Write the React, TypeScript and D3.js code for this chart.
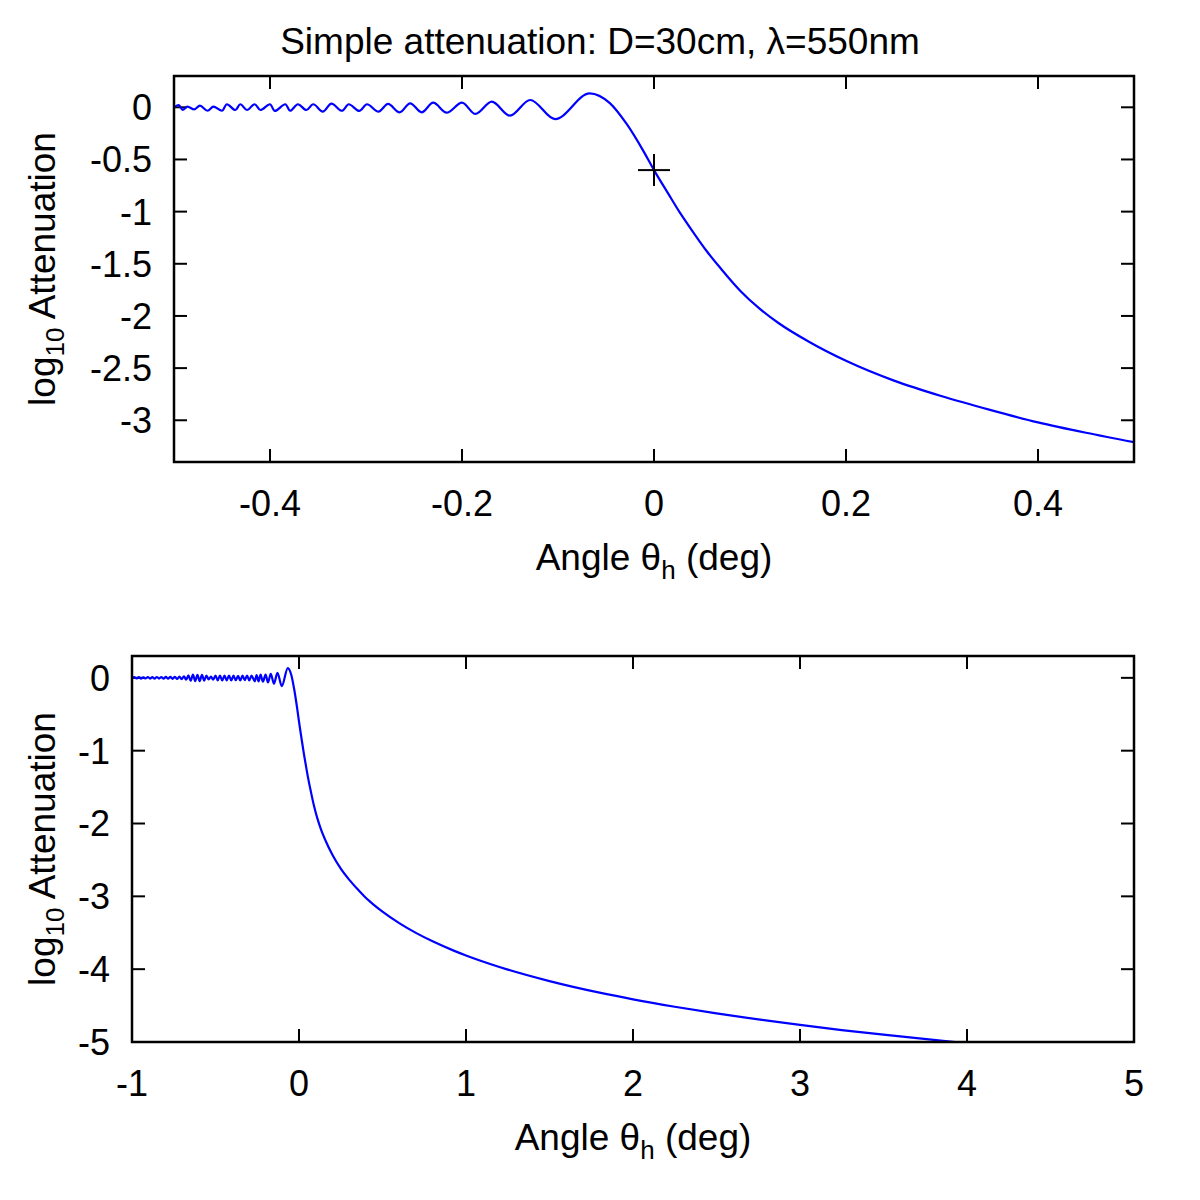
import React from 'react';
import * as d3 from 'd3';

// title and axis text
const chartTitle = 'Simple attenuation: D=30cm, λ=550nm';

// tick values
const topXTicks = [-0.4, -0.2, 0, 0.2, 0.4];
const topYTicks = [0, -0.5, -1, -1.5, -2, -2.5, -3];
const bottomXTicks = [-1, 0, 1, 2, 3, 4, 5];
const bottomYTicks = [0, -1, -2, -3, -4, -5];

// far shadow-side ripples as they appear in the upper panel
const topFarAngle = [
  -0.5, -0.495, -0.491, -0.486, -0.479, -0.473, -0.465, -0.459, -0.45, -0.445,
  -0.436, -0.431, -0.424, -0.416, -0.41, -0.4, -0.395, -0.384, -0.379, -0.371,
  -0.362, -0.355, -0.345, -0.336, -0.325, -0.318, -0.307, -0.299, -0.287, -0.277,
  -0.265,
];
const topFarLog = [
  0.0, 0.022, -0.026, 0.006, -0.02, 0.016, -0.033, 0.006, -0.033, 0.029,
  -0.026, 0.029, -0.026, 0.029, -0.026, 0.029, -0.035, 0.029, -0.033, 0.029,
  -0.026, 0.029, -0.042, 0.035, -0.033, 0.029, -0.035, 0.029, -0.042, 0.032,
  -0.048,
];

// far ripples as they appear in the lower (wide) panel
const bottomFarAngle = [
  -1.0, -0.986, -0.973, -0.959, -0.946, -0.932, -0.919, -0.905, -0.892, -0.878,
  -0.865, -0.851, -0.838, -0.824, -0.811, -0.797, -0.784, -0.77, -0.757, -0.743,
  -0.73, -0.716, -0.703, -0.689, -0.676, -0.662, -0.649, -0.635, -0.622, -0.608,
  -0.595, -0.581, -0.568, -0.554, -0.541, -0.527, -0.514, -0.5, -0.487, -0.473,
  -0.46, -0.446, -0.433, -0.419, -0.406, -0.392, -0.379, -0.365, -0.352, -0.338,
  -0.325, -0.311, -0.298, -0.284, -0.265,
];
const bottomFarLog = [
  0.0, 0.01, -0.008, 0.009, -0.01, 0.008, -0.009, 0.011, -0.01, 0.009,
  -0.011, 0.012, -0.01, 0.011, -0.012, 0.013, -0.012, 0.014, -0.013, 0.015,
  -0.014, 0.016, -0.018, 0.022, -0.026, 0.035, -0.04, 0.045, -0.045, 0.042,
  -0.045, 0.04, -0.038, 0.03, -0.02, 0.016, -0.025, 0.03, -0.034, 0.032,
  -0.036, 0.03, -0.034, 0.032, -0.036, 0.03, -0.033, 0.028, -0.035, 0.03,
  -0.03, 0.032, -0.036, 0.032, -0.048,
];

// near the edge and the lit/shadow transition, shared by both panels
const edgeAngle = [
  -0.254, -0.242, -0.23, -0.216, -0.2, -0.186, -0.169, -0.15, -0.129, -0.103,
  -0.067, -0.046, -0.0285, -0.011, 0, 0.015, 0.027, 0.041, 0.055, 0.07,
  0.09, 0.11, 0.13, 0.16, 0.2, 0.25, 0.3, 0.35, 0.4, 0.45, 0.5,
];
const edgeLog = [
  0.038, -0.048, 0.044, -0.052, 0.044, -0.064, 0.054, -0.08, 0.07, -0.113,
  0.134, 0.04, -0.16, -0.42, -0.602, -0.83, -1.01, -1.2, -1.38, -1.55,
  -1.76, -1.93, -2.07, -2.24, -2.43, -2.62, -2.77, -2.9, -3.02, -3.12, -3.21,
];

// long tail, lower panel only
const tailAngle = [0.6, 0.7, 0.8, 0.93, 1.0, 1.2, 1.5, 1.8, 2.0, 2.25, 2.5, 2.75, 3.0, 3.25, 3.5, 3.7, 3.9, 4.2];
const tailLog = [
  -3.368, -3.502, -3.618, -3.749, -3.812, -3.97, -4.164, -4.323, -4.414, -4.516,
  -4.608, -4.69, -4.766, -4.836, -4.9, -4.948, -4.994, -5.06,
];

// marked point (edge of geometric shadow)
const markAngle = [0];
const markLog = [-0.602];

const zip = (xs: number[], ys: number[]) => xs.map((x, i) => ({ x, y: ys[i] }));

const topData = zip(topFarAngle.concat(edgeAngle), topFarLog.concat(edgeLog));
const bottomData = zip(
  bottomFarAngle.concat(edgeAngle, tailAngle),
  bottomFarLog.concat(edgeLog, tailLog)
);
const markData = zip(markAngle, markLog);

const FONT = '"Liberation Sans", Arial, Helvetica, sans-serif';
const TICK_FS = 36;
const LABEL_FS = 37;
const SUB_FS = 26;

type Box = { left: number; right: number; top: number; bottom: number };

function Panel({
  id, box, xDomain, yDomain, xTicks, yTicks, data, marks,
}: {
  id: string; box: Box; xDomain: [number, number]; yDomain: [number, number];
  xTicks: number[]; yTicks: number[]; data: { x: number; y: number }[];
  marks?: { x: number; y: number }[];
}) {
  const x = d3.scaleLinear().domain(xDomain).range([box.left, box.right]);
  const y = d3.scaleLinear().domain(yDomain).range([box.bottom, box.top]);
  const line = d3.line<{ x: number; y: number }>()
    .x(d => x(d.x))
    .y(d => y(d.y))
    .curve(d3.curveMonotoneX);
  const tick = 13;
  const cx = (box.left + box.right) / 2;
  const cy = (box.top + box.bottom) / 2;

  return (
    <g>
      <defs>
        <clipPath id={id}>
          <rect x={box.left} y={box.top} width={box.right - box.left} height={box.bottom - box.top} />
        </clipPath>
      </defs>

      {/* ticks, mirrored on all four sides */}
      {xTicks.map(t => (
        <g key={'x' + t} stroke="#000" strokeWidth={2}>
          <line x1={x(t)} x2={x(t)} y1={box.bottom} y2={box.bottom - tick} />
          <line x1={x(t)} x2={x(t)} y1={box.top} y2={box.top + tick} />
        </g>
      ))}
      {yTicks.map(t => (
        <g key={'y' + t} stroke="#000" strokeWidth={2}>
          <line x1={box.left} x2={box.left + tick} y1={y(t)} y2={y(t)} />
          <line x1={box.right} x2={box.right - tick} y1={y(t)} y2={y(t)} />
        </g>
      ))}

      <path d={line(data) || ''} fill="none" stroke="#0000ff" strokeWidth={2.2}
        clipPath={`url(#${id})`} />

      {marks && marks.map((m, i) => (
        <g key={i} stroke="#000" strokeWidth={2}>
          <line x1={x(m.x) - 16} x2={x(m.x) + 16} y1={y(m.y)} y2={y(m.y)} />
          <line x1={x(m.x)} x2={x(m.x)} y1={y(m.y) - 16} y2={y(m.y) + 16} />
        </g>
      ))}

      <rect x={box.left} y={box.top} width={box.right - box.left} height={box.bottom - box.top}
        fill="none" stroke="#000" strokeWidth={2.5} />

      {xTicks.map(t => (
        <text key={'xl' + t} x={x(t)} y={box.bottom + 54} textAnchor="middle"
          fontSize={TICK_FS} fontFamily={FONT}>{String(t)}</text>
      ))}
      {yTicks.map(t => (
        <text key={'yl' + t} x={box.left - 22} y={y(t)} dy="0.36em" textAnchor="end"
          fontSize={TICK_FS} fontFamily={FONT}>{String(t)}</text>
      ))}

      <text x={cx} y={box.bottom + 108} textAnchor="middle" fontSize={LABEL_FS} fontFamily={FONT}>
        Angle θ<tspan fontSize={SUB_FS} dy={9}>h</tspan><tspan dy={-9}> (deg)</tspan>
      </text>
      <text transform={`translate(55,${cy}) rotate(-90)`} textAnchor="middle"
        fontSize={LABEL_FS} fontFamily={FONT}>
        log<tspan fontSize={SUB_FS} dy={9}>10</tspan><tspan dy={-9}> Attenuation</tspan>
      </text>
    </g>
  );
}

export default function App() {
  return (
    <svg width={1200} height={1200} style={{ position: 'absolute', left: 0, top: 0, background: '#fff' }}>
      <rect width={1200} height={1200} fill="#fff" />
      <text x={600} y={54} textAnchor="middle" fontSize={LABEL_FS} fontFamily={FONT}>{chartTitle}</text>
      <Panel id="clipTop" box={{ left: 174, right: 1134, top: 76, bottom: 462 }}
        xDomain={[-0.5, 0.5]} yDomain={[-3.4, 0.3]} xTicks={topXTicks} yTicks={topYTicks}
        data={topData} marks={markData} />
      <Panel id="clipBottom" box={{ left: 132, right: 1134, top: 656, bottom: 1042 }}
        xDomain={[-1, 5]} yDomain={[-5, 0.3]} xTicks={bottomXTicks} yTicks={bottomYTicks}
        data={bottomData} />
    </svg>
  );
}
